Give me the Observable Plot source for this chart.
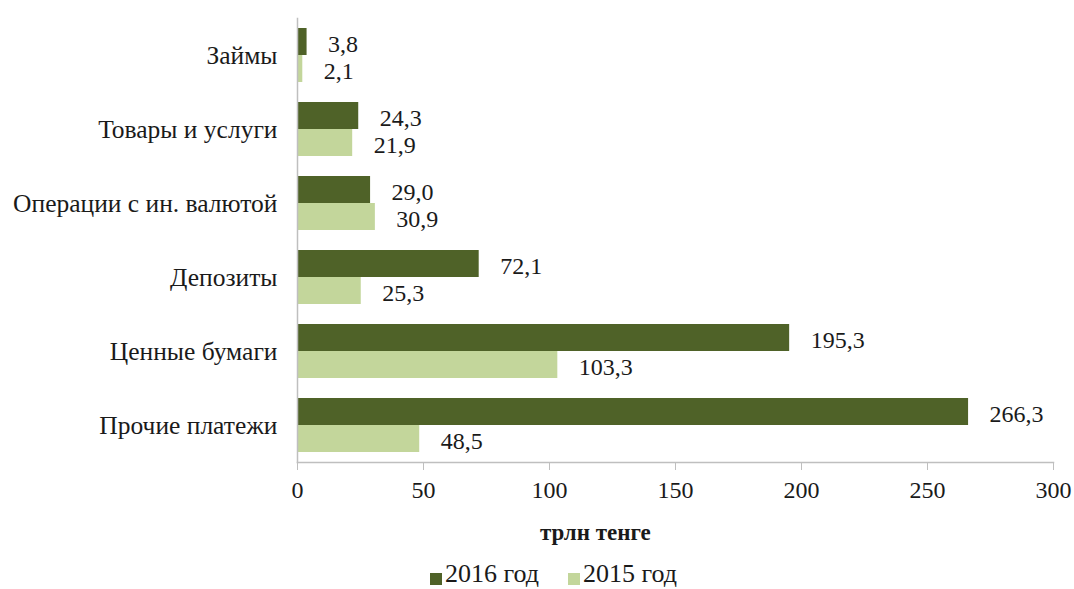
<!DOCTYPE html>
<html>
<head>
<meta charset="utf-8">
<script src="https://cdn.jsdelivr.net/npm/d3@7"></script>
<script src="https://cdn.jsdelivr.net/npm/@observablehq/plot@0.6"></script>
<style>
  body { margin: 0; background: white; }
  #wrap { position: relative; width: 1074px; height: 589px; overflow: hidden; }
</style>
</head>
<body>
<div id="wrap">
  <div id="chart"></div>
  <div id="xlabel" style="position:absolute; left:540px; top:519px; font-size:23px; line-height:1.2; font-weight:bold; color:#1a1a1a; white-space:nowrap; font-family:'Liberation Serif'">трлн тенге</div>
  <div id="legend" style="position:absolute; left:430px; top:561px; font-size:26px; line-height:1; color:#1a1a1a; display:flex; align-items:center; white-space:nowrap; font-family:'Liberation Serif'"></div>
</div>
<script>
const categories = ["Займы", "Товары и услуги", "Операции с ин. валютой", "Депозиты", "Ценные бумаги", "Прочие платежи"];
const series = ["2016 год", "2015 год"];
const values2016 = [3.8, 24.3, 29.0, 72.1, 195.3, 266.3];
const values2015 = [2.1, 21.9, 30.9, 25.3, 103.3, 48.5];
const xTicks = [0, 50, 100, 150, 200, 250, 300];
const colors = ["#4f6228", "#c3d69b"];

const data = [];
categories.forEach((c, i) => {
  data.push({category: c, year: series[0], value: values2016[i]});
  data.push({category: c, year: series[1], value: values2015[i]});
});

const fmt = v => v.toFixed(1).replace(".", ",");
const FONT = "'Liberation Serif'";

const chart = Plot.plot({
  width: 1074,
  height: 505,
  marginLeft: 297,
  marginRight: 21,
  marginTop: 18,
  marginBottom: 43,
  style: {fontFamily: FONT, color: "#1a1a1a", background: "white", overflow: "visible"},
  x: {domain: [0, 300], ticks: xTicks},
  y: {domain: series, paddingInner: 0, paddingOuter: 0.36, axis: null},
  fy: {domain: categories, padding: 0, label: null},
  color: {domain: series, range: colors},
  marks: [
    Plot.barX(data, {fy: "category", y: "year", x: "value", fill: "year"}),
    Plot.text(data, {fy: "category", y: "year", x: "value", text: d => fmt(d.value), textAnchor: "start", dx: 21, dy: 2, fontSize: 24, fontFamily: FONT, fill: "#1a1a1a"}),
    Plot.axisFy({anchor: "left", tickSize: 0, tickPadding: 20, fontSize: 25.5, fontFamily: FONT, label: null}),
    Plot.axisX({ticks: xTicks, tickSize: 8, tickPadding: 10, fontSize: 24, fontFamily: FONT, stroke: "#bfbfbf", label: null, tickFormat: d => String(d)}),
    Plot.frame({anchor: "bottom", facet: "super", stroke: "#bfbfbf", strokeWidth: 1.5}),
    Plot.frame({anchor: "left", facet: "super", stroke: "#bfbfbf", strokeWidth: 1.5})
  ]
});
document.getElementById("chart").appendChild(chart);

const legend = document.getElementById("legend");
series.forEach((s, i) => {
  const item = document.createElement("span");
  item.style.cssText = `display:inline-flex; align-items:center; margin-right:${i === 0 ? 29 : 0}px`;
  const sw = document.createElement("span");
  sw.style.cssText = `display:inline-block; position:relative; top:5px; width:12px; height:12px; margin-right:3px; background:${colors[i]}`;
  const label = document.createElement("span");
  label.textContent = s;
  item.appendChild(sw);
  item.appendChild(label);
  legend.appendChild(item);
});
</script>
</body>
</html>
